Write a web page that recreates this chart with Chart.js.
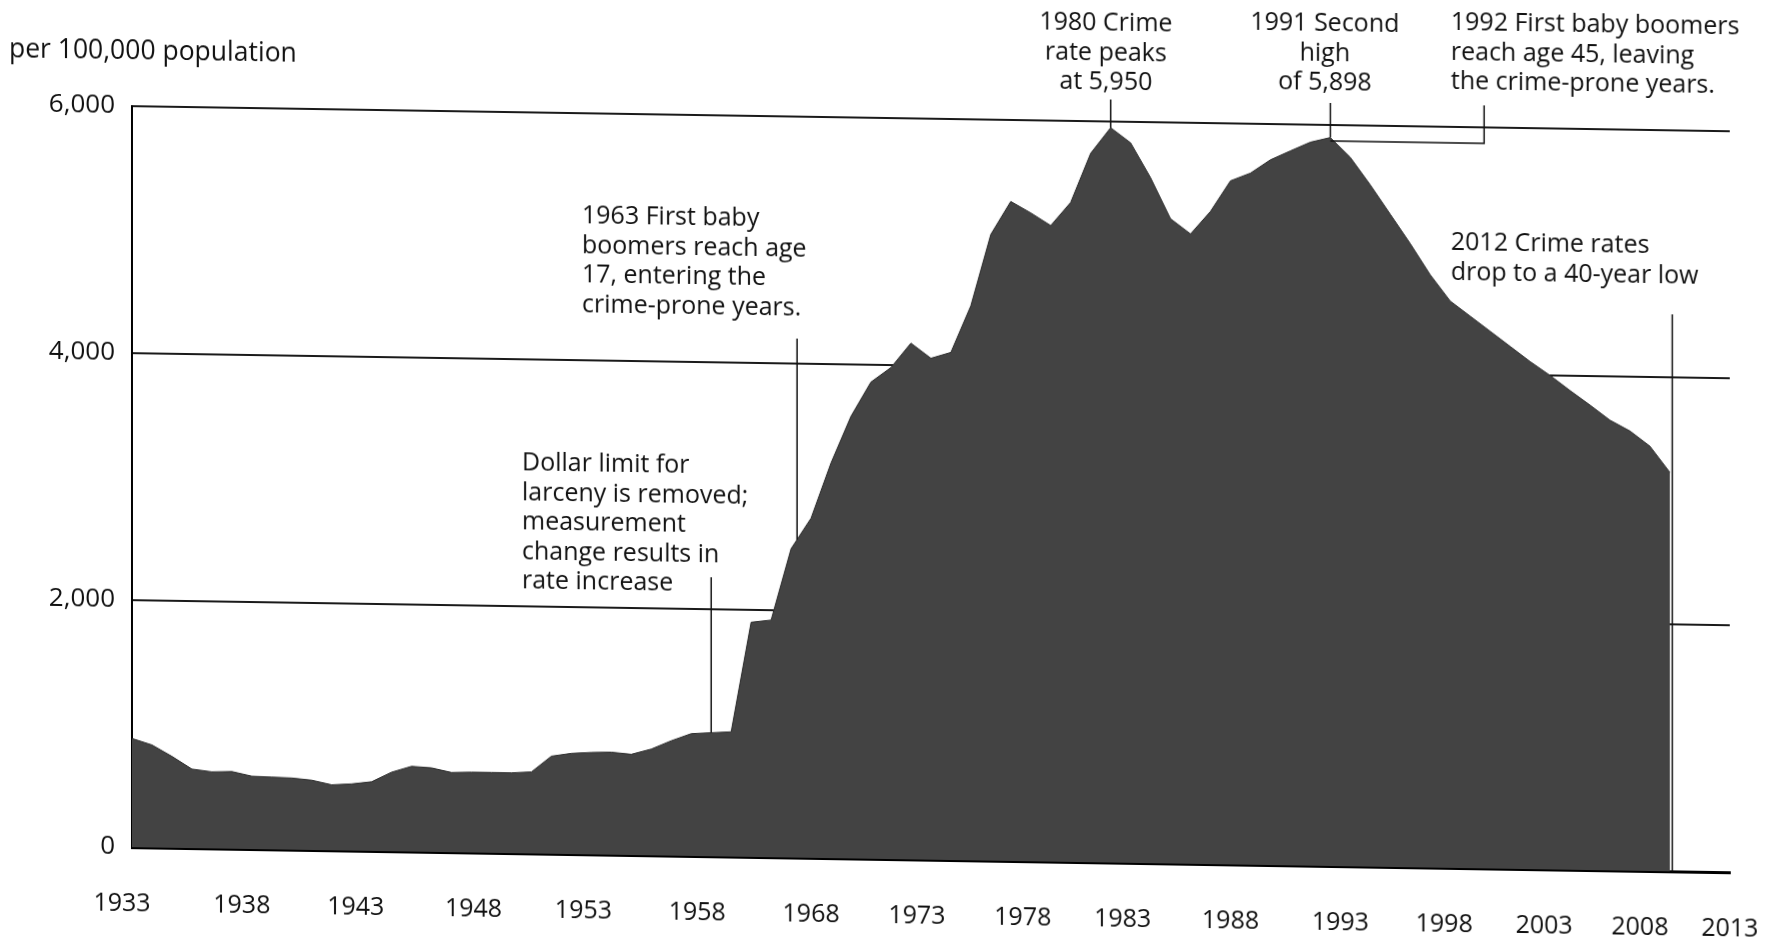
<!DOCTYPE html>
<html>
<head>
<meta charset="utf-8">
<title>Crime rate per 100,000 population</title>
<script src="https://cdn.jsdelivr.net/npm/chart.js@4.4.1/dist/chart.umd.min.js"></script>
<style>
  html, body { margin: 0; padding: 0; background: #fff; overflow: hidden; }
  /* the printed page was scanned slightly askew */
  #wrap { width: 1773px; height: 938px; transform: skewY(0.9deg); transform-origin: 886px 469px; }
</style>
</head>
<body>
<div id="wrap"><canvas id="chartCrime" width="1773" height="938"></canvas></div>
<script>
// one category per year slot on the drawn axis
const years = [
  '1933','1934','1935','1936','1937','1938','1939','1940','1941','1942',
  '1943','1944','1945','1946','1947','1948','1949','1950','1951','1952',
  '1953','1954','1955','1956','1957','1958','1959','1960','1961','1962',
  '1963','1964','1965','1966','1967','1968','1969','1970','1971','1972',
  '1973','1974','1975','1976','1977','1978','1979','1980','1981','1982',
  '1983','1984','1985','1986','1987','1988','1989','1990','1991','1992',
  '1993','1994','1995','1996','1997','1998','1999','2000','2001','2002',
  '2003','2004','2005','2006','2007','2008','2009','2010','2011','2012',
  '2013'
];

// crimes per 100,000 population
const crimeRate = [
  880, 830, 740, 640, 620, 625, 590, 585, 580, 565,
  530, 540, 560, 640, 690, 680, 645, 650, 650, 650,
  660, 790, 815, 825, 830, 815, 860, 930, 990, 1000,
  1010, 1900, 1920, 2500, 2750, 3200, 3580, 3860, 3980, 4180,
  4060, 4110, 4490, 5070, 5340, 5250, 5150, 5340, 5740, 5950,
  5830, 5550, 5220, 5100, 5285, 5535, 5600, 5710, 5785, 5858,
  5898, 5740, 5520, 5285, 5050, 4800, 4590, 4470, 4350, 4230,
  4110, 4000, 3880, 3765, 3645, 3560, 3440, 3230
];

// labels as printed under the axis (1963 is not printed), and where they sit
// on the year-slot scale of the data
const tickLabels = ['1933','1938','1943','1948','1953','1958','1968','1973',
  '1978','1983','1988','1993','1998','2003','2008','2013'];
const tickPos = [-0.5, 5.5, 11.2, 17.1, 22.6, 28.3, 34.0, 39.3,
  44.6, 49.6, 55.0, 60.5, 65.7, 70.7, 75.5, 80.0];

const FONT_FAMILY = '"Open Sans", sans-serif';
const FONT_SIZE = 25;
const LINE = 29.5;

Chart.defaults.font.family = FONT_FAMILY;
Chart.defaults.color = '#111';

// text blocks (pixel positions on the canvas)
const notes = [
  { lines: ['per 100,000 population'], align: 'left', x: 9, y: 63, size: 26.5 },
  { lines: ['Dollar limit for', 'larceny is removed;', 'measurement', 'change results in', 'rate increase'], align: 'left', x: 522, y: 469 },
  { lines: ['1963 First baby', 'boomers reach age', '17, entering the', 'crime-prone years.'], align: 'left', x: 582, y: 221 },
  { lines: ['1980 Crime', 'rate peaks', 'at 5,950'], align: 'center', x: 1106, y: 20 },
  { lines: ['1991 Second', 'high', 'of 5,898'], align: 'center', x: 1325, y: 17 },
  { lines: ['1992 First baby boomers', 'reach age 45, leaving', 'the crime-prone years.'], align: 'left', x: 1451, y: 14 },
  { lines: ['2012 Crime rates', 'drop to a 40-year low'], align: 'left', x: 1451, y: 234 }
];

// leader lines: slot index on the x scale, top in pixels
const leaders = [
  { at: 29.0, top: 580 },
  { at: 33.3, top: 340 },
  { at: 49, top: 96 },
  { at: 60, top: 96 },
  { at: 77.12, top: 302, toZero: true }
];

function valueAt(i) {
  const a = Math.floor(i), b = Math.min(a + 1, crimeRate.length - 1);
  return crimeRate[a] + (crimeRate[b] - crimeRate[a]) * (i - a);
}

const notesPlugin = {
  id: 'notes',
  afterDatasetsDraw(chart) {
    const { ctx } = chart;
    const x = chart.scales.x, y = chart.scales.y;
    ctx.save();
    ctx.strokeStyle = '#111';
    ctx.lineWidth = 1.5;
    ctx.beginPath();
    leaders.forEach(l => {
      const px = x.getPixelForValue(l.at);
      const bottom = l.toZero ? y.getPixelForValue(0) : y.getPixelForValue(valueAt(l.at));
      ctx.moveTo(px, l.top);
      ctx.lineTo(px, bottom);
    });
    // bracket from the 1991 high out to the 1992 note
    const by = y.getPixelForValue(5870);
    const bx = x.getPixelForValue(67.7);
    ctx.moveTo(x.getPixelForValue(60), by);
    ctx.lineTo(bx, by);
    ctx.lineTo(bx, 96);
    ctx.stroke();

    ctx.fillStyle = '#111';
    ctx.textBaseline = 'middle';
    notes.forEach(n => {
      ctx.font = (n.size || FONT_SIZE) + 'px ' + FONT_FAMILY;
      ctx.textAlign = n.align;
      n.lines.forEach((t, i) => ctx.fillText(t, n.x, n.y + i * LINE));
    });
    ctx.restore();
  }
};

new Chart(document.getElementById('chartCrime'), {
  type: 'line',
  data: {
    labels: years,
    datasets: [{
      data: crimeRate,
      xAxisID: 'x',
      yAxisID: 'y',
      fill: 'origin',
      backgroundColor: '#434343',
      borderColor: '#2e2e2e',
      borderWidth: 1,
      pointRadius: 0,
      tension: 0,
    }],
  },
  options: {
    responsive: false,
    animation: false,
    events: [],
    layout: { padding: { top: 118, right: 43, bottom: 0, left: 0 } },
    plugins: {
      legend: { display: false },
      tooltip: { enabled: false },
    },
    scales: {
      x: { type: 'category', display: false, offset: false },
      xt: {
        type: 'linear',
        min: 0,
        max: years.length - 1,
        position: 'bottom',
        grid: { display: false, drawTicks: false },
        border: { display: true, color: '#000', width: 3 },
        afterBuildTicks: s => { s.ticks = tickPos.map(v => ({ value: v })); },
        ticks: {
          autoSkip: false,
          maxRotation: 0,
          padding: 14,
          font: { size: FONT_SIZE, lineHeight: 3.4 },
          callback: (v, i) => tickLabels[i],
        },
        afterFit: s => { s.height = 79; },
      },
      y: {
        min: 0,
        max: 6000,
        ticks: {
          stepSize: 2000,
          padding: 17,
          font: { size: 26 },
          callback: v => v.toLocaleString('en-US'),
        },
        grid: { color: '#1a1a1a', lineWidth: 2, drawTicks: false },
        border: { display: true, color: '#000', width: 2 },
        afterFit: s => { s.width = 132; },
      },
    },
  },
  plugins: [notesPlugin],
});
</script>
</body>
</html>
